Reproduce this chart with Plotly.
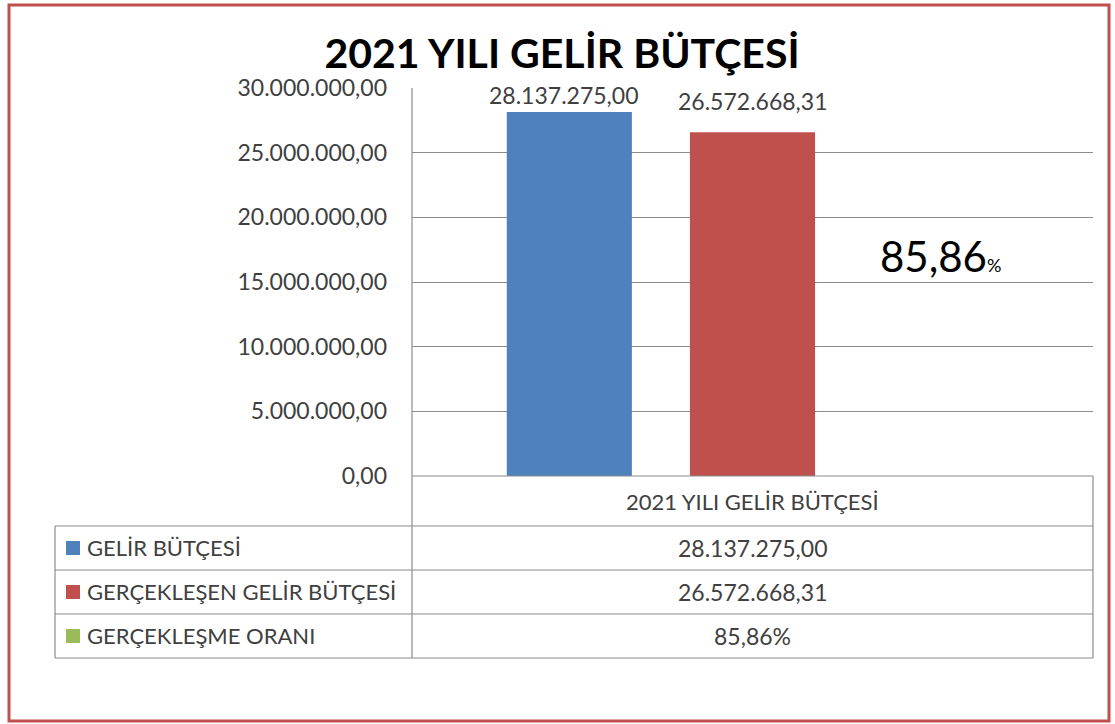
import plotly.graph_objects as go

# ---- data ----
category = ["2021 YILI GELİR BÜTÇESİ"]
series_names = ["GELİR BÜTÇESİ", "GERÇEKLEŞEN GELİR BÜTÇESİ", "GERÇEKLEŞME ORANI"]
gelir_butcesi = [28137275.00]
gerceklesen = [26572668.31]
gerceklesme_orani = [85.86]
y_ticks = [0, 5000000, 10000000, 15000000, 20000000, 25000000, 30000000]

colors = ["#4F81BD", "#C0504D", "#9BBB59"]
FONT = "Lato"
TXT = "#404040"

W, H = 1115, 724
L, R, T, B = 412, 1093, 88, 476  # plot area in px


def px_x(x):
    return (x - L) / (R - L)


def px_y(y):
    return (B - y) / (B - T)


def tr(v):
    s = f"{v:,.2f}"
    return s.replace(",", "X").replace(".", ",").replace("X", ".")


fig = go.Figure()
for name, vals, c in zip(series_names, [gelir_butcesi, gerceklesen, gerceklesme_orani], colors):
    fig.add_trace(go.Bar(x=category, y=vals, name=name, marker=dict(color=c, line=dict(width=0)),
                         showlegend=False))

fig.update_layout(
    width=W, height=H,
    margin=dict(l=L, r=W - R, t=T, b=H - B),
    paper_bgcolor="white", plot_bgcolor="white",
    separators=",.",
    barmode="group", bargap=0.193, bargroupgap=0.317,
    font=dict(family=FONT, color=TXT),
    title=dict(text="<b>2021 YILI GELİR BÜTÇESİ</b>", x=562 / W, xanchor="center",
               y=1 - 54 / H, yanchor="middle", font=dict(size=41, color="#000000", family=FONT)),
    xaxis=dict(showticklabels=False, showline=False, showgrid=False, zeroline=False),
    yaxis=dict(range=[0, 30000000], tickvals=y_ticks, tickformat=",.2f",
               showgrid=True, gridcolor="#8C8C8C", gridwidth=1, zeroline=False,
               showline=False, ticks="", ticklabelstandoff=24,
               tickfont=dict(size=23, color=TXT, family=FONT)),
)

# data labels
fig.add_annotation(x=category[0], y=gelir_butcesi[0], text=tr(gelir_butcesi[0]), showarrow=False,
                   xshift=-189, yshift=1, xanchor="center", yanchor="bottom",
                   font=dict(size=23, color=TXT, family=FONT))
fig.add_annotation(x=category[0], y=gerceklesen[0], text=tr(gerceklesen[0]), showarrow=False,
                   xshift=0, yshift=15, xanchor="center", yanchor="bottom",
                   font=dict(size=23, color=TXT, family=FONT))
pct = f"{gerceklesme_orani[0]:.2f}".replace(".", ",")
fig.add_annotation(xref="paper", yref="paper", x=px_x(940), y=px_y(256),
                   xanchor="center", yanchor="middle",
                   text=pct + "<span style='font-size:18px'>%</span>", showarrow=False,
                   font=dict(size=42, color="#000000", family=FONT))

# table lines
line = dict(color="#8C8C8C", width=1.2)
rows = [476, 526, 570, 614, 658]
for i, yy in enumerate(rows):
    x0 = L if i == 0 else 55
    fig.add_shape(type="line", xref="paper", yref="paper", x0=px_x(x0), x1=px_x(R),
                  y0=px_y(yy), y1=px_y(yy), line=line)
fig.add_shape(type="line", xref="paper", yref="paper", x0=px_x(L), x1=px_x(L),
              y0=px_y(T), y1=px_y(658), line=line)
fig.add_shape(type="line", xref="paper", yref="paper", x0=px_x(55), x1=px_x(55),
              y0=px_y(526), y1=px_y(658), line=line)
fig.add_shape(type="line", xref="paper", yref="paper", x0=px_x(R), x1=px_x(R),
              y0=px_y(476), y1=px_y(658), line=line)

# category row
fig.add_annotation(xref="paper", yref="paper", x=px_x(752), y=px_y(501), text=category[0],
                   xanchor="center", yanchor="middle",
                   showarrow=False, font=dict(size=22, color=TXT, family=FONT))
values_txt = [tr(gelir_butcesi[0]), tr(gerceklesen[0]), pct + "%"]
for i, (name, c, vt) in enumerate(zip(series_names, colors, values_txt)):
    yc = (rows[i + 1] + rows[i + 2]) / 2
    fig.add_shape(type="rect", xref="paper", yref="paper", x0=px_x(66), x1=px_x(80),
                  y0=px_y(yc - 7), y1=px_y(yc + 7), fillcolor=c, line=dict(width=0))
    fig.add_annotation(xref="paper", yref="paper", x=px_x(85), y=px_y(yc - 1), text=name,
                       xanchor="left", yanchor="middle", showarrow=False,
                       font=dict(size=22, color=TXT, family=FONT))
    fig.add_annotation(xref="paper", yref="paper", x=px_x(752), y=px_y(yc), text=vt,
                       xanchor="center", yanchor="middle", showarrow=False,
                       font=dict(size=23, color=TXT, family=FONT))

# outer frame
fig.add_shape(type="rect", xref="paper", yref="paper", x0=px_x(9), x1=px_x(1109),
              y0=px_y(721), y1=px_y(5), line=dict(color="#C0504D", width=3), layer="below")

fig.write_html("out.html", config={"displayModeBar": False},
               post_script="document.body.style.margin='0';document.body.style.overflow='hidden';")
